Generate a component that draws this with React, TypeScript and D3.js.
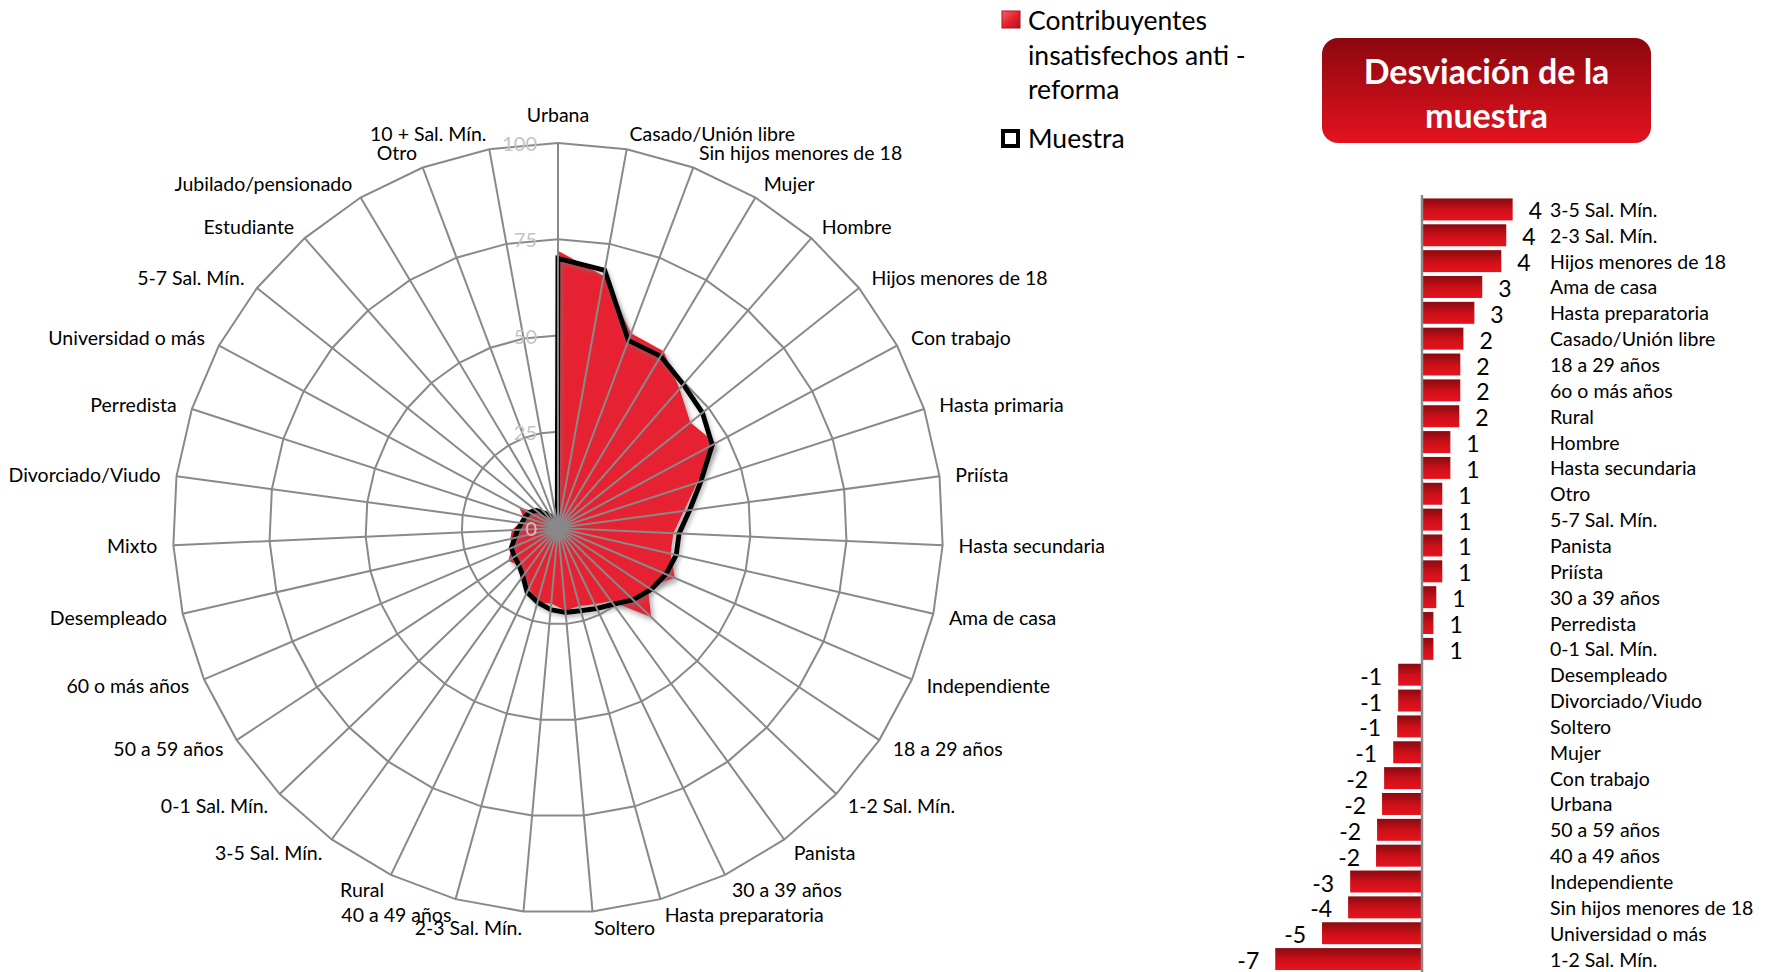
import React from "react";
import * as d3 from "d3";

// radar categories, clockwise from the top
const radarCategories = [
  "Urbana", "Casado/Unión libre", "Sin hijos menores de 18", "Mujer", "Hombre",
  "Hijos menores de 18", "Con trabajo", "Hasta primaria", "Priísta", "Hasta secundaria",
  "Ama de casa", "Independiente", "18 a 29 años", "1-2 Sal. Mín.", "Panista",
  "30 a 39 años", "Hasta preparatoria", "Soltero", "2-3 Sal. Mín.", "40 a 49 años",
  "Rural", "3-5 Sal. Mín.", "0-1 Sal. Mín.", "50 a 59 años", "60 o más años",
  "Desempleado", "Mixto", "Divorciado/Viudo", "Perredista", "Universidad o más",
  "5-7 Sal. Mín.", "Estudiante", "Jubilado/pensionado", "Otro", "10 +  Sal. Mín.",
];

const muestraValues = [
  70, 68, 52, 52, 49.5, 48, 45.5, 39, 34.5, 31.5,
  31.5, 30.5, 29, 27, 24.5, 23.2, 22.3, 22, 21.3, 20,
  18.5, 15.5, 14, 13.5, 13.2, 11.5, 10.5, 9.5, 9, 8.5,
  7.3, 5, 3.5, 2, 1,
];

const antiReformaValues = [
  72, 66.5, 54, 53.5, 48, 44, 46.5, 38, 33, 30,
  30, 33, 28, 33.5, 23.5, 22, 21, 21.5, 19.7, 20,
  17.5, 16.5, 14, 15.5, 13, 12.7, 12, 10, 9.5, 11.5,
  6, 5, 3, 2, 1,
];

const ringTicks = [0, 25, 50, 75, 100];

// deviation bar chart
const desviacionCategories = [
  "3-5 Sal. Mín.", "2-3 Sal. Mín.", "Hijos menores de 18", "Ama de casa", "Hasta preparatoria",
  "Casado/Unión libre", "18 a 29 años", "6o o más años", "Rural", "Hombre",
  "Hasta secundaria", "Otro", "5-7 Sal. Mín.", "Panista", "Priísta",
  "30 a 39 años", "Perredista", "0-1 Sal. Mín.", "Desempleado", "Divorciado/Viudo",
  "Soltero", "Mujer", "Con trabajo", "Urbana", "50 a 59 años",
  "40 a 49 años", "Independiente", "Sin hijos menores de 18", "Universidad o más", "1-2 Sal. Mín.",
];

const desviacionValues = [
  4.38, 4.07, 3.83, 2.91, 2.53, 2.0, 1.85, 1.85, 1.8, 1.37,
  1.37, 0.98, 0.98, 0.98, 0.98, 0.69, 0.55, 0.55, -1.15, -1.15,
  -1.2, -1.39, -1.83, -1.93, -2.17, -2.22, -3.47, -3.57, -4.83, -7.09,
];

const W = 1779;
const H = 972;
const FONT = "Lato, 'Open Sans', sans-serif";

function Radar() {
  const cx = 558;
  const cy = 528;
  const n = radarCategories.length;
  const r = d3.scaleLinear().domain([0, 100]).range([0, 385]);
  const angle = d3.scaleLinear().domain([0, n]).range([0, 2 * Math.PI]);
  const idx = d3.range(n);

  const radial = d3
    .lineRadial<number>()
    .angle((i) => angle(i))
    .curve(d3.curveLinearClosed);

  const ringPath = (v: number) => radial.radius(() => r(v))(idx) as string;
  const seriesPath = (vals: number[]) => radial.radius((i) => r(vals[i]))(idx) as string;

  const labelR = r(100) + 16;

  return (
    <g transform={`translate(${cx},${cy})`}>
      {ringTicks.filter((t) => t > 0).map((t) => (
        <path key={t} d={ringPath(t)} fill="none" stroke="#898989" strokeWidth={2} />
      ))}
      <path d={seriesPath(antiReformaValues)} fill="#e62330" filter="url(#shadowRed)" />
      <path
        d={seriesPath(muestraValues)}
        fill="none"
        stroke="#000"
        strokeWidth={5}
        strokeLinejoin="miter"
        filter="url(#soft)"
      />
      {idx.map((i) => {
        const a = angle(i);
        return (
          <line
            key={i}
            x1={0}
            y1={0}
            x2={r(100) * Math.sin(a)}
            y2={-r(100) * Math.cos(a)}
            stroke="#898989"
            strokeWidth={2}
          />
        );
      })}
      {ringTicks.map((t) => (
        <text
          key={t}
          x={-21}
          y={-r(t)}
          textAnchor="end"
          dominantBaseline="central"
          fontFamily={FONT}
          fontSize={20}
          fill="#c3c3c3"
        >
          {t}
        </text>
      ))}
      {radarCategories.map((c, i) => {
        const a = angle(i);
        const s = Math.sin(a);
        const x = labelR * s;
        const y = -labelR * Math.cos(a);
        const top = Math.abs(s) < 0.02;
        const anchor = top ? "middle" : s > 0 ? "start" : "end";
        return (
          <text
            key={c}
            x={x}
            y={top ? y - 5 : y}
            textAnchor={anchor}
            dominantBaseline={top ? "auto" : "central"}
            fontFamily={FONT}
            fontSize={19.5}
            fill="#000"
          >
            {c}
          </text>
        );
      })}
    </g>
  );
}

function Legend() {
  return (
    <g fontFamily={FONT} fontSize={26.5} fill="#000">
      <rect x={1002} y={11} width={18} height={17} fill="url(#legendRed)" stroke="#b0101a" strokeWidth={1} />
      <text x={1028} y={20} dominantBaseline="central">Contribuyentes</text>
      <text x={1028} y={55} dominantBaseline="central">insatisfechos anti -</text>
      <text x={1028} y={89} dominantBaseline="central">reforma</text>
      <rect x={1003} y={131} width={15} height={15} fill="#fff" stroke="#000" strokeWidth={4} />
      <text x={1028} y={138} dominantBaseline="central">Muestra</text>
    </g>
  );
}

function Deviation() {
  const axisX = 1422;
  const unit = 20.7;
  const x = d3
    .scaleLinear()
    .domain([-8, 5])
    .range([axisX - 8 * unit, axisX + 5 * unit]);
  const y = d3
    .scaleBand<string>()
    .domain(desviacionCategories)
    .range([196.5, 196.5 + desviacionCategories.length * 25.85])
    .paddingInner(0.15)
    .paddingOuter(0.075);

  return (
    <g fontFamily={FONT}>
      <rect x={1322} y={38} width={329} height={105} rx={16} fill="url(#titleGrad)" />
      <text x={1486.5} y={70} textAnchor="middle" dominantBaseline="central" fontSize={34} fontWeight={700} fill="#fff">
        Desviación de la
      </text>
      <text x={1486.5} y={114} textAnchor="middle" dominantBaseline="central" fontSize={34} fontWeight={700} fill="#fff">
        muestra
      </text>

      {desviacionCategories.map((c, i) => {
        const v = desviacionValues[i];
        const y0 = y(c) as number;
        const bw = y.bandwidth();
        const x0 = x(Math.min(0, v));
        const x1 = x(Math.max(0, v));
        return (
          <g key={c}>
            <rect x={x0} y={y0} width={x1 - x0} height={bw} fill="url(#barGrad)" />
            <text
              x={v >= 0 ? x1 + 16 : x0 - 16}
              y={y0 + bw / 2 + 1}
              textAnchor={v >= 0 ? "start" : "end"}
              dominantBaseline="central"
              fontSize={23}
              fill="#000"
            >
              {`${Math.round(v)}`}
            </text>
            <text x={1550} y={y0 + bw / 2} dominantBaseline="central" fontSize={19.5} fill="#000">
              {c}
            </text>
          </g>
        );
      })}
      <line x1={axisX} x2={axisX} y1={195} y2={H} stroke="#8a8a8a" strokeWidth={2.5} />
    </g>
  );
}

export default function App() {
  return (
    <svg
      width={W}
      height={H}
      viewBox={`0 0 ${W} ${H}`}
      style={{ position: "absolute", left: 0, top: 0, background: "#fff" }}
    >
      <defs>
        <filter id="soft" x="-20%" y="-20%" width="140%" height="140%">
          <feGaussianBlur in="SourceAlpha" stdDeviation="2" result="blur" />
          <feOffset in="blur" dx="2" dy="3" result="off" />
          <feFlood floodColor="#7a7a7a" floodOpacity="0.45" />
          <feComposite in2="off" operator="in" result="shadow" />
          <feMerge>
            <feMergeNode in="shadow" />
            <feMergeNode in="SourceGraphic" />
          </feMerge>
        </filter>
        <filter id="shadowRed" x="-20%" y="-20%" width="140%" height="140%">
          <feGaussianBlur in="SourceAlpha" stdDeviation="2.5" result="blur" />
          <feOffset in="blur" dx="3" dy="4" result="off" />
          <feFlood floodColor="#7a7a7a" floodOpacity="0.55" />
          <feComposite in2="off" operator="in" result="shadow" />
          <feMerge>
            <feMergeNode in="shadow" />
            <feMergeNode in="SourceGraphic" />
          </feMerge>
        </filter>
        <linearGradient id="barGrad" x1="0" y1="0" x2="0" y2="1">
          <stop offset="0%" stopColor="#8a0a10" />
          <stop offset="55%" stopColor="#cf1019" />
          <stop offset="100%" stopColor="#e6131e" />
        </linearGradient>
        <linearGradient id="titleGrad" x1="0" y1="0" x2="0" y2="1">
          <stop offset="0%" stopColor="#8c070e" />
          <stop offset="100%" stopColor="#e3131f" />
        </linearGradient>
        <linearGradient id="legendRed" x1="0" y1="0" x2="1" y2="1">
          <stop offset="0%" stopColor="#f26670" />
          <stop offset="50%" stopColor="#e62330" />
          <stop offset="100%" stopColor="#b3101a" />
        </linearGradient>
      </defs>
      <Radar />
      <Legend />
      <Deviation />
    </svg>
  );
}
